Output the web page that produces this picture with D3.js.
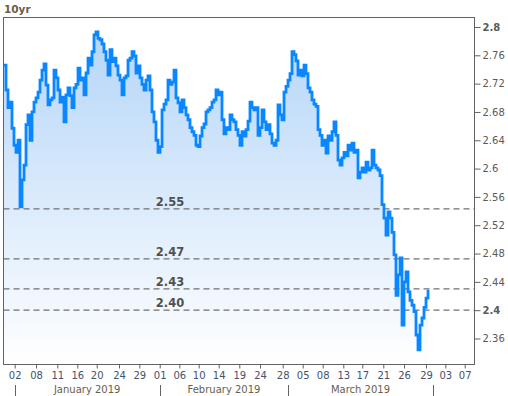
<!DOCTYPE html>
<html>
<head>
<meta charset="utf-8">
<script src="https://cdn.jsdelivr.net/npm/d3@7"></script>
<style>
  body { margin: 0; background: #fff; }
  svg { display: block; font-family: "DejaVu Sans", sans-serif; }
</style>
</head>
<body>
<div id="chart"></div>
<script>
// 10yr yield, evenly spaced intraday samples from 02 Jan to 29 Mar 2019
const yields = [
  2.746, 2.711, 2.686, 2.694, 2.657, 2.633, 2.623, 2.640, 2.546, 2.584,
  2.605, 2.662, 2.676, 2.640, 2.680, 2.694, 2.700, 2.708, 2.725, 2.739,
  2.748, 2.718, 2.690, 2.697, 2.700, 2.739, 2.728, 2.711, 2.694, 2.701,
  2.666, 2.704, 2.714, 2.703, 2.686, 2.714, 2.719, 2.742, 2.725, 2.728,
  2.704, 2.735, 2.756, 2.746, 2.765, 2.789, 2.793, 2.784, 2.782, 2.776,
  2.765, 2.753, 2.732, 2.768, 2.751, 2.756, 2.745, 2.732, 2.725, 2.704,
  2.728, 2.731, 2.753, 2.756, 2.765, 2.759, 2.735, 2.745, 2.728, 2.719,
  2.711, 2.725, 2.731, 2.711, 2.680, 2.666, 2.640, 2.623, 2.631, 2.683,
  2.691, 2.697, 2.725, 2.719, 2.722, 2.739, 2.700, 2.693, 2.680, 2.697,
  2.686, 2.676, 2.669, 2.658, 2.652, 2.647, 2.633, 2.631, 2.646, 2.658,
  2.663, 2.680, 2.683, 2.686, 2.694, 2.697, 2.711, 2.704, 2.708, 2.669,
  2.649, 2.658, 2.655, 2.676, 2.669, 2.666, 2.655, 2.647, 2.633, 2.652,
  2.646, 2.655, 2.667, 2.694, 2.686, 2.683, 2.686, 2.647, 2.658, 2.683,
  2.666, 2.655, 2.662, 2.649, 2.636, 2.633, 2.640, 2.690, 2.676, 2.669,
  2.708, 2.716, 2.725, 2.734, 2.765, 2.761, 2.752, 2.732, 2.739, 2.731,
  2.746, 2.734, 2.714, 2.708, 2.697, 2.691, 2.688, 2.655, 2.647, 2.633,
  2.640, 2.622, 2.646, 2.640, 2.652, 2.666, 2.647, 2.612, 2.605, 2.615,
  2.623, 2.618, 2.633, 2.626, 2.636, 2.623, 2.626, 2.587, 2.595, 2.601,
  2.595, 2.609, 2.598, 2.601, 2.626, 2.605, 2.601, 2.598, 2.590, 2.549,
  2.530, 2.506, 2.539, 2.530, 2.510, 2.478, 2.421, 2.450, 2.474, 2.379,
  2.440, 2.454, 2.426, 2.414, 2.407, 2.398, 2.365, 2.344, 2.379, 2.389,
  2.404, 2.417, 2.429
];

// x ticks, in sample index units
const tickPos = [5.35, 16, 26.65, 36.65, 46.35, 57.5, 67.65, 77.85, 87.65, 97.35, 107.35, 117.65,
                 128, 139.35, 149.35, 159.35, 169.65, 179.15, 189.65, 200, 211, 220.65, 230.35];
const tickLabels = ["02", "08", "11", "16", "20", "24", "29", "01", "06", "10", "14", "19",
                    "24", "28", "05", "08", "13", "17", "21", "26", "29", "03", "07"];

const monthBreaks = [5.35, 77.85, 142.15, 214.35];
const monthLabels = ["January 2019", "February 2019", "March 2019"];

const yTicks = [2.8, 2.76, 2.72, 2.68, 2.64, 2.6, 2.56, 2.52, 2.48, 2.44, 2.4, 2.36];
const yBold = [2.8, 2.4];

const levels = [2.543, 2.4725, 2.43, 2.40];
const levelLabels = ["2.55", "2.47", "2.43", "2.40"];
const levelLabelAt = 83;

const W = 508, H = 396;
const plot = { left: 3.5, top: 17.5, right: 474.5, bottom: 364.5 };

const svg = d3.select("#chart").append("svg")
  .attr("width", W)
  .attr("height", H);

const x = d3.scaleLinear()
  .domain([-0.25, 235.25])
  .range([plot.left, plot.right]);

const y = d3.scaleLinear()
  .domain([2.3233, 2.8134])
  .range([plot.bottom, plot.top]);

// gradient for the area
const grad = svg.append("defs").append("linearGradient")
  .attr("id", "areaGrad")
  .attr("gradientUnits", "userSpaceOnUse")
  .attr("x1", 0).attr("y1", plot.top)
  .attr("x2", 0).attr("y2", plot.bottom);
grad.append("stop").attr("offset", "0%").attr("stop-color", "#b2d4f8");
grad.append("stop").attr("offset", "100%").attr("stop-color", "#ffffff");

// title
svg.append("text")
  .attr("x", 4)
  .attr("y", 13)
  .style("font-size", "10.5px")
  .style("font-weight", "bold")
  .style("fill", "#6e5c4a")
  .text("10yr");

// area + line (stepped, like the tick-by-tick original)
const area = d3.area()
  .curve(d3.curveStepAfter)
  .x((d, i) => x(i))
  .y0(plot.bottom)
  .y1(d => y(d));

const line = d3.line()
  .curve(d3.curveStepAfter)
  .x((d, i) => x(i))
  .y(d => y(d));

svg.append("path")
  .datum(yields)
  .attr("d", area)
  .attr("fill", "url(#areaGrad)");

// level lines
svg.append("g").selectAll("line")
  .data(levels)
  .join("line")
    .attr("x1", plot.left)
    .attr("x2", plot.right)
    .attr("y1", d => y(d))
    .attr("y2", d => y(d))
    .attr("stroke", "#707070")
    .attr("stroke-width", 1.3)
    .attr("stroke-dasharray", "6,4");

svg.append("path")
  .datum(yields)
  .attr("d", line)
  .attr("fill", "none")
  .attr("stroke", "#0a86ff")
  .attr("stroke-width", 2.8)
  .attr("stroke-linejoin", "miter");

svg.append("g").selectAll("text")
  .data(levels)
  .join("text")
    .attr("x", x(levelLabelAt))
    .attr("y", d => y(d) - 3)
    .attr("text-anchor", "middle")
    .style("font-size", "11.5px")
    .style("font-weight", "bold")
    .style("fill", "#505050")
    .text((d, i) => levelLabels[i]);

// frame
svg.append("rect")
  .attr("x", plot.left)
  .attr("y", plot.top)
  .attr("width", plot.right - plot.left)
  .attr("height", plot.bottom - plot.top)
  .attr("fill", "none")
  .attr("stroke", "#626262")
  .attr("stroke-width", 1);

// y axis on the right
const yAxis = d3.axisRight(y)
  .tickValues(yTicks)
  .tickSize(6)
  .tickPadding(2)
  .tickFormat(d => String(+d.toFixed(2)));

const gy = svg.append("g")
  .attr("transform", `translate(${plot.right},0)`)
  .call(yAxis);
gy.select(".domain").remove();
gy.selectAll("line").attr("stroke", "#626262");
gy.selectAll("text")
  .style("font-family", "DejaVu Sans, sans-serif")
  .style("font-size", "10px")
  .style("fill", "#5a5a5a")
  .style("font-weight", d => yBold.includes(d) ? "bold" : "normal");

// x axis
const xAxis = d3.axisBottom(x)
  .tickValues(tickPos)
  .tickSize(4)
  .tickPadding(3)
  .tickFormat((d, i) => tickLabels[i]);

const gx = svg.append("g")
  .attr("transform", `translate(0,${plot.bottom})`)
  .call(xAxis);
gx.select(".domain").remove();
gx.selectAll("line").attr("stroke", "#626262");
gx.selectAll("text")
  .style("font-family", "DejaVu Sans, sans-serif")
  .style("font-size", "10px")
  .style("fill", "#44536a");

// month separators and labels
svg.append("g").selectAll("line")
  .data(monthBreaks)
  .join("line")
    .attr("x1", d => Math.round(x(d)) + 0.5)
    .attr("x2", d => Math.round(x(d)) + 0.5)
    .attr("y1", 385)
    .attr("y2", H)
    .attr("stroke", "#626262");

svg.append("g").selectAll("text")
  .data(monthLabels)
  .join("text")
    .attr("x", (d, i) => (x(monthBreaks[i]) + x(monthBreaks[i + 1])) / 2)
    .attr("y", 393)
    .attr("text-anchor", "middle")
    .style("font-size", "10px")
    .style("fill", "#6a5e4c")
    .text(d => d);
</script>
</body>
</html>
